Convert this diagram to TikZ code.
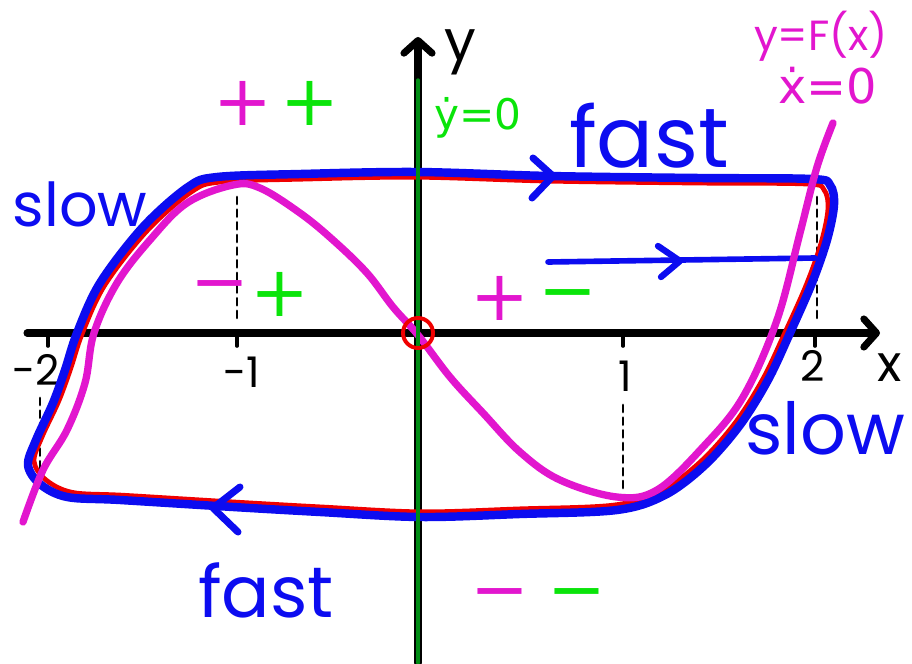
\documentclass[tikz,border=0pt]{standalone}
\usepackage{fontspec}
\setmainfont{Poppins}
\newfontfamily\dejavu{DejaVu Sans}
\usetikzlibrary{arrows.meta}

\definecolor{cycblue}{RGB}{12,12,240}
\definecolor{cycred}{RGB}{240,0,0}
\definecolor{nullmag}{RGB}{226,22,206}
\definecolor{signgreen}{RGB}{10,228,10}
\definecolor{axisgreen}{RGB}{0,140,20}

% limit cycle, traced clockwise from the top left
\newcommand{\cyclepath}{plot[smooth cycle, tension=0.55] coordinates {
  (217,177) (300,174) (417,172) (550,176) (700,178) (812,179) (830,185)
  (834,205) (827,240) (812,283) (790,333) (768,380) (740,425) (705,465)
  (665,495) (617,510) (520,514) (420,517) (320,512) (233,507) (120,500)
  (67,497) (40,484) (28,465) (36,440) (53,403) (65,370) (77,333) (100,283)
  (143,227) (188,187)}}

\begin{document}
\begin{tikzpicture}[x=0.025cm, y=-0.025cm, line cap=round, line join=round,
  word/.style={text=cycblue, font=\fontsize{46}{46}\selectfont, inner sep=0pt},
  sign/.style={font=\dejavu\fontsize{50}{50}\selectfont, inner sep=0pt},
  ticklabel/.style={font=\fontsize{30}{30}\selectfont, inner sep=0pt},
  guide/.style={black, line width=2pt, dash pattern=on 5pt off 4pt},
  chev/.style={cycblue, line width=5pt}]
  \useasboundingbox (0,0) rectangle (912,663);

  % axes
  \coordinate (O) at (418,333);
  \coordinate (xL) at (27,333);
  \coordinate (xR) at (880,333);
  \coordinate (yB) at (418,663);
  \coordinate (yT) at (418,37);
  \draw[line width=5pt, -{Straight Barb[round, length=9pt, width=20pt]}] (xL) -- (xR);
  \draw[line width=5pt, -{Straight Barb[round, length=9pt, width=20pt]}] (yB) -- (yT);
  \node[font=\fontsize{36}{36}\selectfont, inner sep=0pt] (xlab) at (890,368) {x};
  \node[font=\fontsize{40}{40}\selectfont, inner sep=0pt] (ylab) at (460,52) {y};
  \foreach \x/\lab/\lx/\ly in {48/-2/36/370, 237/-1/242/372, 623/1/625/376, 815/2/813/366} {
    \draw[line width=2.6pt] (\x,333) -- (\x,346);
    \node[ticklabel] at (\lx,\ly) {\lab};
  }

  % dashed guides
  \draw[guide] (237,197) -- (237,320);
  \draw[guide] (623,405) -- (623,488);
  \draw[guide] (817,197) -- (817,322);
  \draw[guide] (40,398) -- (40,480);

  % limit cycle, red copy just inside the blue one
  \draw[cycred, line width=3.4pt, shift={(430,345)}, xscale=0.985, yscale=0.97,
    shift={(-430,-345)}] \cyclepath;
  \draw[cycblue, line width=6pt] \cyclepath;
  \draw[chev] (533,158) -- (553,176) -- (532,198);
  \draw[chev] (240,487) -- (213,508) -- (238,532);

  % trajectory joining the cycle
  \coordinate (tS) at (548,262);
  \coordinate (tE) at (815,258);
  \draw[cycblue, line width=4pt] (tS) -- (tE);
  \draw[cycblue, line width=4.5pt] (658,246) -- (680,261) -- (661,277);

  % x-nullcline y = F(x)
  \draw[nullmag, line width=5.2pt] plot[smooth, tension=0.6] coordinates {
    (23,522) (43,470) (67,430) (85,383) (94,333) (117,283) (150,240)
    (187,203) (233,185) (260,188) (300,213) (333,240) (367,273) (393,307)
    (418,335) (450,377) (483,413) (520,452) (560,480) (617,497) (657,490)
    (703,447) (743,397) (777,320) (800,233) (817,167) (833,123)};

  % y-nullcline along the y axis
  \draw[axisgreen, line width=2.4pt] (418,80) -- (yB);
  \draw[cycred, line width=2.8pt] (O) circle (15);

  % labels
  \node[word, font=\fontsize{43}{43}\selectfont] (slowL) at (80,204) {slow};
  \node[word, font=\fontsize{51}{51}\selectfont] (slowR) at (825,428) {slow};
  \node[word, font=\fontsize{60}{60}\selectfont] (fastT) at (649,136) {fast};
  \node[word, font=\fontsize{51}{51}\selectfont] (fastB) at (266,590) {fast};
  \node[text=signgreen, font=\dejavu\fontsize{30}{30}\selectfont, inner sep=0pt]
    (ydot) at (478,118) {ẏ=0};
  \node[text=nullmag, font=\fontsize{30}{30}\selectfont, inner sep=0pt]
    (Fx) at (821,36) {y=F(x)};
  \node[text=nullmag, font=\dejavu\fontsize{34}{34}\selectfont, inner sep=0pt]
    (xdot) at (828,86) {ẋ=0};

  % signs of xdot and ydot in each region
  \node[sign, text=nullmag] at (243,103) {+};
  \node[sign, text=signgreen] at (310,103) {+};
  \node[sign, text=nullmag] at (220,293) {−};
  \node[sign, text=signgreen] at (280,294) {+};
  \node[sign, text=nullmag] at (500,298) {+};
  \node[sign, text=signgreen] at (568,302) {−};
  \node[sign, text=nullmag] at (500,601) {−};
  \node[sign, text=signgreen] at (577,601) {−};
\end{tikzpicture}
\end{document}
